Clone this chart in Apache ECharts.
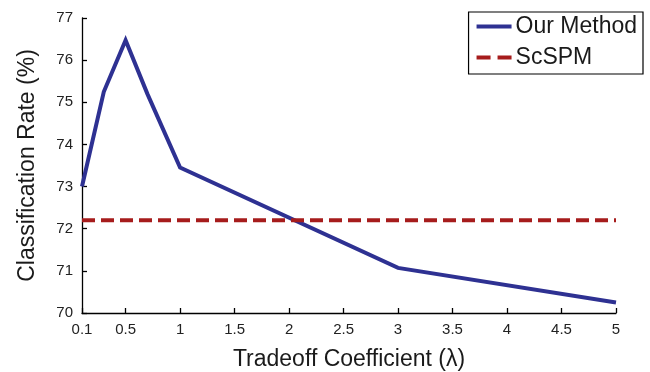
<!DOCTYPE html>
<html>
<head>
<meta charset="utf-8">
<script src="https://cdn.jsdelivr.net/npm/echarts@6/dist/echarts.min.js"></script>
<style>html,body{margin:0;padding:0;background:#fff;}#c{width:650px;height:372px;}</style>
</head>
<body>
<div id="c"></div>
<script>
var lambdaValues = [0.1, 0.3, 0.5, 0.7, 1, 3, 5];
var ourMethod = [73.0, 75.25, 76.47, 75.2, 73.45, 71.07, 70.25];
var scspmRate = 72.2;
var xTicks = [0.1, 0.5, 1, 1.5, 2, 2.5, 3, 3.5, 4, 4.5, 5];
var seriesNames = ['Our Method', 'ScSPM'];

var font = '"Liberation Sans", Arial, sans-serif';
var chart = echarts.init(document.getElementById('c'), null, {renderer: 'canvas'});
chart.setOption({
  animation: false,
  backgroundColor: '#fff',
  grid: {left: 82, right: 34, top: 18, bottom: 59, containLabel: false, outerBoundsMode: 'none'},
  xAxis: {
    type: 'value', min: 0.1, max: 5,
    name: 'Tradeoff Coefficient (\u03bb)', nameLocation: 'middle', nameGap: 35,
    nameTextStyle: {fontFamily: font, fontSize: 23, color: '#1a1a1a'},
    axisLine: {lineStyle: {color: '#000', width: 1.3}},
    axisTick: {inside: true, length: 5, customValues: xTicks, lineStyle: {color: '#000', width: 1.3}},
    axisLabel: {customValues: xTicks, fontFamily: font, fontSize: 15, color: '#222', margin: 9,
      formatter: function (v) { return String(v); }},
    splitLine: {show: false}
  },
  yAxis: {
    type: 'value', min: 70, max: 77, interval: 1,
    name: 'Classification Rate (%)', nameLocation: 'middle', nameGap: 43,
    nameTextStyle: {fontFamily: font, fontSize: 23, color: '#1a1a1a'},
    axisLine: {show: true, lineStyle: {color: '#000', width: 1.3}},
    axisTick: {show: true, inside: true, length: 5, lineStyle: {color: '#000', width: 1.3}},
    axisLabel: {fontFamily: font, fontSize: 15, color: '#222', margin: 9},
    splitLine: {show: false}
  },
  legend: {
    orient: 'vertical', right: 7, top: 12,
    data: [
      {name: seriesNames[0], lineStyle: {width: 4, type: 'solid'}},
      {name: seriesNames[1], lineStyle: {width: 4, type: [14, 7]}}
    ],
    borderColor: '#000', borderWidth: 1.2, backgroundColor: '#fff',
    padding: [3, 6, 5, 6], itemGap: 8, itemWidth: 35, itemHeight: 24,
    itemStyle: {color: 'rgba(0,0,0,0)', borderWidth: 0, opacity: 0},
    lineStyle: {width: 4},
    textStyle: {fontFamily: font, fontSize: 23, color: '#1a1a1a', padding: [0, 0, 0, -1]}
  },
  series: [
    {
      name: seriesNames[0], type: 'line', symbol: 'none',
      data: lambdaValues.map(function (x, i) { return [x, ourMethod[i]]; }),
      lineStyle: {color: '#2e3192', width: 4, join: 'miter'},
      itemStyle: {color: '#2e3192'}
    },
    {
      name: seriesNames[1], type: 'line', symbol: 'none',
      data: [[0.1, scspmRate], [5, scspmRate]],
      lineStyle: {color: '#a61c1c', width: 4, type: [13, 6]},
      itemStyle: {color: '#a61c1c'}
    }
  ]
});
</script>
</body>
</html>
